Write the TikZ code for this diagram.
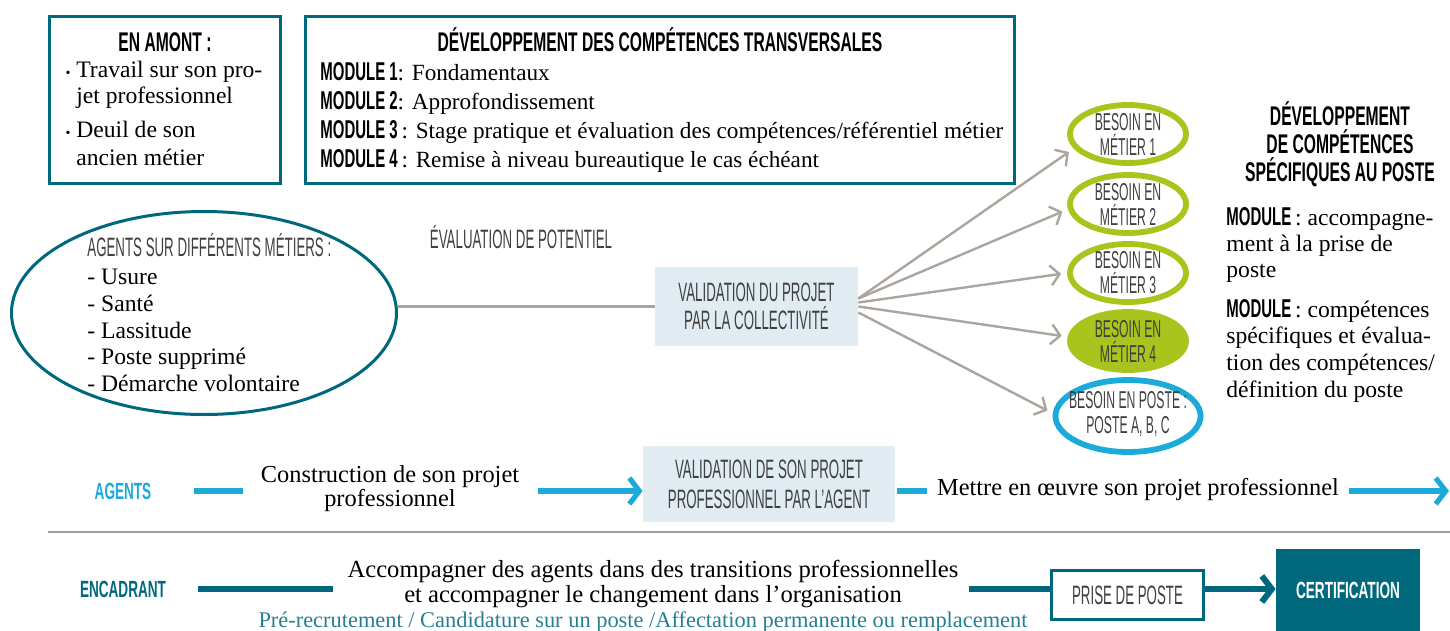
\documentclass[tikz,border=0pt]{standalone}
\usepackage{fontspec}
\setmainfont{Liberation Serif}
\newfontfamily\condfont[FakeStretch=0.5]{Liberation Sans}
\newfontfamily\headfont[FakeStretch=0.58]{Liberation Sans}
\usetikzlibrary{arrows.meta,shapes.geometric}

\definecolor{petrol}{HTML}{00687D}
\definecolor{sky}{HTML}{1CAAD9}
\definecolor{lime}{HTML}{A9C41C}
\definecolor{pale}{HTML}{E0ECF2}
\definecolor{taupe}{HTML}{ABA59E}
\definecolor{ink}{HTML}{404040}
\definecolor{rule}{HTML}{9E9E9E}

\newcommand\modtag[1]{{\headfont\bfseries\fontsize{12.9}{13}\selectfont #1}}
\newcommand\bulletmark{{\scriptsize\textbullet}\hspace{3pt}}

\tikzset{
  bodytext/.style={font=\fontsize{11.8}{13}\selectfont, inner sep=0pt},
  headtext/.style={font=\headfont\bfseries\fontsize{13.5}{14}\selectfont, inner sep=0pt},
  lighttext/.style={font=\condfont\fontsize{13.3}{14}\selectfont, text=ink, inner sep=0pt},
  boxframe/.style={draw=petrol, line width=1.5pt, inner sep=0pt},
  paleblock/.style={fill=pale, inner sep=0pt, align=center, lighttext},
  needgreen/.style={ellipse, draw=lime, line width=2.9pt, minimum width=58pt, minimum height=29pt, inner sep=0pt},
  needtext/.style={align=center, inner sep=0pt, font=\condfont\fontsize{12.2}{12.5}\selectfont, text=ink},
  greyarrow/.style={draw=taupe, line width=1.2pt, -{Straight Barb[length=4.5pt,width=10pt]}, shorten >=3pt},
  skyline/.style={draw=sky, line width=2.6pt},
  skyarrow/.style={skyline, -{Straight Barb[length=5pt,width=13pt]}},
  petrolline/.style={draw=petrol, line width=3pt},
  petrolarrow/.style={petrolline, -{Straight Barb[length=5pt,width=13pt]}},
}

\begin{document}
\begin{tikzpicture}[x=0.5pt, y=-0.5pt]
\useasboundingbox (0,0) rectangle (1450,631);

% en amont
\node[boxframe, minimum width=115.5pt, minimum height=83.5pt] (amont) at (165,100) {};
\node[headtext, anchor=base] (amontT) at (165,52) {EN AMONT :};
\node[bodytext, anchor=base west] (amont1) at (76,78) {\llap{\bulletmark}Travail sur son pro-};
\node[bodytext, anchor=base west] (amont2) at (76,104) {jet professionnel};
\node[bodytext, anchor=base west] (amont3) at (76,138) {\llap{\bulletmark}Deuil de son};
\node[bodytext, anchor=base west] (amont4) at (76,165) {ancien métier};

% competences transversales
\node[boxframe, minimum width=354.5pt, minimum height=83.5pt] (transv) at (660,100) {};
\node[headtext, anchor=base] (transvT) at (660,52) {DÉVELOPPEMENT DES COMPÉTENCES TRANSVERSALES};
\node[bodytext, anchor=base west, font=\fontsize{11.6}{13}\selectfont] (mod1) at (320,81) {\modtag{MODULE 1}: Fondamentaux};
\node[bodytext, anchor=base west, font=\fontsize{11.6}{13}\selectfont] (mod2) at (320,110) {\modtag{MODULE 2}: Approfondissement};
\node[bodytext, anchor=base west, font=\fontsize{11.6}{13}\selectfont] (mod3) at (320,139) {\modtag{MODULE 3}\,: Stage pratique et évaluation des compétences/référentiel métier};
\node[bodytext, anchor=base west, font=\fontsize{11.6}{13}\selectfont] (mod4) at (320,168) {\modtag{MODULE 4}\,: Remise à niveau bureautique le cas échéant};

% agents de depart
\node[ellipse, draw=petrol, line width=1.5pt, minimum width=192.5pt, minimum height=101.5pt, inner sep=0pt] (agents) at (204,313) {};
\node[lighttext, anchor=base west] (agentsT) at (87,256) {AGENTS SUR DIFFÉRENTS MÉTIERS :};
\node[bodytext, anchor=base west] (ag1) at (87,284) {- Usure};
\node[bodytext, anchor=base west] (ag2) at (87,311) {- Santé};
\node[bodytext, anchor=base west] (ag3) at (87,338) {- Lassitude};
\node[bodytext, anchor=base west] (ag4) at (87,364) {- Poste supprimé};
\node[bodytext, anchor=base west] (ag5) at (87,391) {- Démarche volontaire};

\node[lighttext, anchor=base] (evalT) at (521,248) {ÉVALUATION DE POTENTIEL};
\node[paleblock, minimum width=101.5pt, minimum height=39.5pt] (valid) at (756.5,306.5) {VALIDATION DU PROJET\\PAR LA COLLECTIVITÉ};
\draw[draw=taupe, line width=1.5pt] (agents.east |- valid.west) -- (valid.west);

% besoins
\node[needgreen] (m1) at (1128,134) {};
\node[needgreen] (m2) at (1128,204) {};
\node[needgreen] (m3) at (1128,273) {};
\node[needgreen, fill=lime] (m4) at (1128,341) {};
\node[needgreen, draw=sky, minimum width=72.5pt, minimum height=36pt] (poste) at (1128,416) {};
\node[needtext] (m1T) at (m1) {BESOIN EN\\MÉTIER 1};
\node[needtext] (m2T) at (m2) {BESOIN EN\\MÉTIER 2};
\node[needtext] (m3T) at (m3) {BESOIN EN\\MÉTIER 3};
\node[needtext] (m4T) at (m4) {BESOIN EN\\MÉTIER 4};
\node[needtext] (posteT) at ([yshift=1pt]poste) {BESOIN EN POSTE :\\POSTE A, B, C};

\draw[greyarrow] ([yshift=4pt]valid.east) -- (m1.195);
\draw[greyarrow] ([yshift=4pt]valid.east) -- (m2.185);
\draw[greyarrow] ([yshift=2pt]valid.east) -- (m3.west);
\draw[greyarrow] ([yshift=0pt]valid.east) -- (m4.176);
\draw[greyarrow] ([yshift=-3pt]valid.east) -- (poste.178);

% competences specifiques
\node[headtext, align=center] (specT) at (1340,144) {DÉVELOPPEMENT\\DE COMPÉTENCES\\SPÉCIFIQUES AU POSTE};
\node[bodytext, anchor=base west] (spec1) at (1226,225) {\modtag{MODULE}\,: accompagne-};
\node[bodytext, anchor=base west] (spec2) at (1226,251) {ment à la prise de};
\node[bodytext, anchor=base west] (spec3) at (1226,277) {poste};
\node[bodytext, anchor=base west] (spec4) at (1226,317) {\modtag{MODULE}\,: compétences};
\node[bodytext, anchor=base west] (spec5) at (1226,343) {spécifiques et évalua-};
\node[bodytext, anchor=base west] (spec6) at (1226,370) {tion des compétences/};
\node[bodytext, anchor=base west] (spec7) at (1226,397) {définition du poste};

% ligne agents
\node[headtext, font=\headfont\bfseries\fontsize{11.7}{12}\selectfont, text=sky] (agT) at (123,491) {AGENTS};
\node[bodytext, align=center, font=\fontsize{12.2}{12}\selectfont] (constr) at (390,489) {Construction de son projet\\professionnel};
\node[paleblock, minimum width=126pt, minimum height=38pt, font=\condfont\fontsize{13.3}{15}\selectfont] (valag) at (769,484) {VALIDATION DE SON PROJET\\PROFESSIONNEL PAR L’AGENT};
\node[bodytext, anchor=base, font=\fontsize{12.2}{13}\selectfont] (mettre) at (1138,495) {Mettre en œuvre son projet professionnel};
\coordinate (agEnd) at (1449,491);

\draw[skyline, shorten <=21pt, shorten >=9pt] (agT.east) -- (constr.west |- agT);
\draw[skyarrow, shorten <=9pt] (constr.east |- agT) -- (valag.west |- agT);
\draw[skyline, shorten <=1pt, shorten >=5pt] (valag.east |- agT) -- (mettre.west |- agT);
\draw[skyarrow, shorten <=5pt] (mettre.east |- agT) -- (agEnd);

\draw[draw=rule, line width=0.9pt] (48,532) -- (1450,532);

% ligne encadrant
\node[headtext, font=\headfont\bfseries\fontsize{11.7}{12}\selectfont, text=petrol] (encT) at (123,589) {ENCADRANT};
\node[bodytext, align=center, font=\fontsize{12.3}{12.5}\selectfont] (accomp) at (653,584) {Accompagner des agents dans des transitions professionnelles\\et accompagner le changement dans l’organisation};
\node[bodytext, anchor=base, text=petrol!85, font=\fontsize{11.2}{12}\selectfont] (prerec) at (643,627) {Pré-recrutement / Candidature sur un poste /Affectation permanente ou remplacement};
\node[boxframe, minimum width=76pt, minimum height=24.5pt, lighttext] (prise) at (1127.5,595) {PRISE DE POSTE};
\node[fill=petrol, minimum width=72pt, minimum height=41pt, inner sep=0pt, text=white,
  font=\headfont\bfseries\fontsize{11.7}{12}\selectfont] (certif) at (1348,590) {CERTIFICATION};

\draw[petrolline, shorten <=16pt, shorten >=7pt] (encT.east) -- (accomp.west |- encT);
\draw[petrolline, shorten <=5pt] (accomp.east |- encT) -- (prise.west |- encT);
\draw[petrolarrow] (prise.east |- encT) -- (certif.west |- encT);
\end{tikzpicture}
\end{document}
